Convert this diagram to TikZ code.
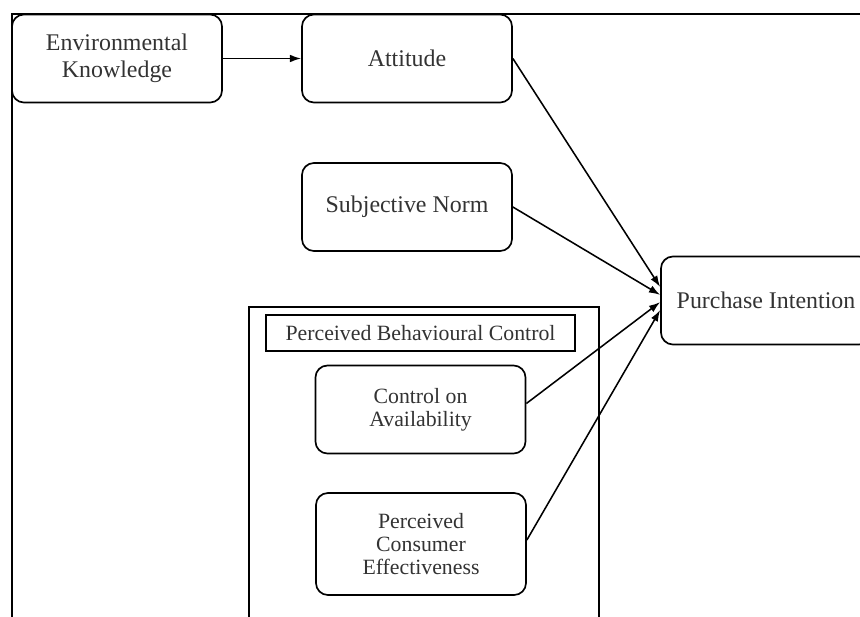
\documentclass[tikz,border=0pt]{standalone}
\usepackage{fontspec}
\setmainfont{Liberation Serif}
\usetikzlibrary{arrows.meta}

\begin{document}
\begin{tikzpicture}[>={Latex[length=8pt,width=5.5pt]},x=0.025cm,y=-0.025cm,
  box/.style={rectangle,
       draw,
       rounded corners=0.3cm,
       line width=1.2pt,
       minimum width=5.25cm,
       minimum height=2.2cm,
       align=center,
       text=black!80,
       font=\fontsize{17}{19}\selectfont},
  inbox/.style={box,
       font=\fontsize{15.5}{16.5}\selectfont},
  link/.style={->,line width=1.1pt}]
\useasboundingbox (0,0) rectangle (860,617);
% outer frame (cut off at the right and bottom)
\draw [line width=1.3pt] (12,640) -- (12,14) -- (880,14);
\node [box] (ek) at (117,58.5) {Environmental\\Knowledge};
\node [box] (att) at (407,58.5) {Attitude};
\node [box] (sn) at (407,207) {Subjective Norm};
\node [box] (pi) at (766,300.5) {Purchase Intention};
% perceived behavioural control group
\draw [line width=1.2pt] (249,640) -- (249,307) -- (599,307) -- (599,640);
\node [rectangle,
       draw,
       line width=1.2pt,
       minimum width=7.725cm,
       minimum height=0.9cm,
       text=black!80,
       font=\fontsize{15.5}{16.5}\selectfont] (pbc) at (420.5,333) {Perceived Behavioural Control};
\node [inbox] (coa) at (420.5,409.5) {Control on\\Availability};
\node [inbox,minimum height=2.55cm] (pce) at (421,544) {Perceived\\Consumer\\Effectiveness};
\draw [link] (ek) -- (att);
\draw [link] (att.east) -- ([yshift=0.34cm]pi.west);
\draw [link] (sn.east) -- ([yshift=0.14cm]pi.west);
\draw [link] ([yshift=0.15cm]coa.east) -- ([yshift=-0.04cm]pi.west);
\draw [link] ([yshift=0.1cm]pce.east) -- ([yshift=-0.24cm]pi.west);
\end{tikzpicture}
\end{document}
